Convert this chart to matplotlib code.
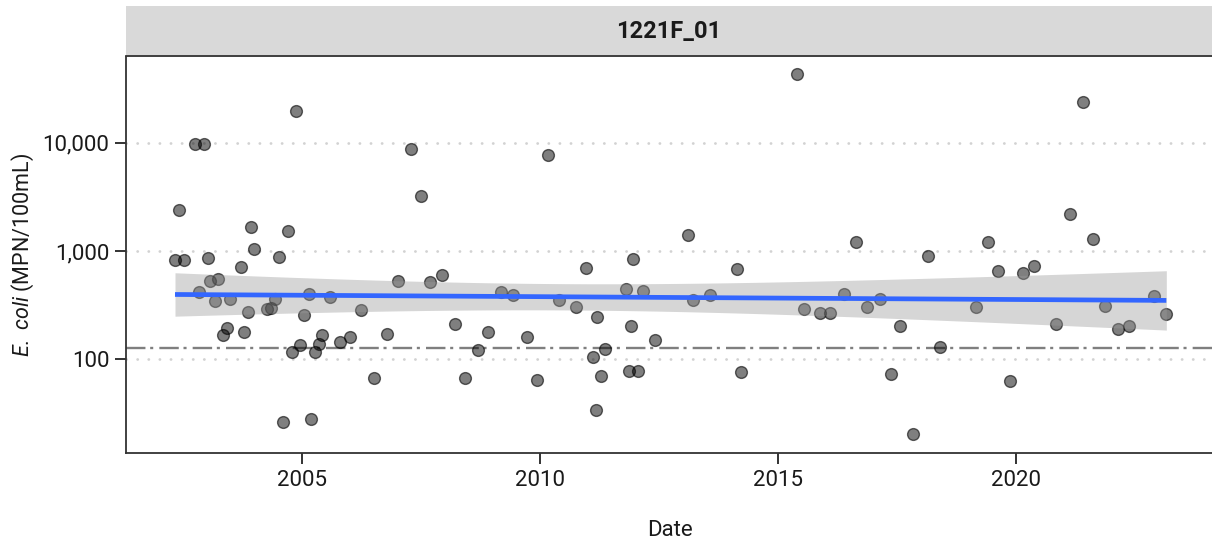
import numpy as np
import matplotlib
matplotlib.use("Agg")
import matplotlib.pyplot as plt
from matplotlib.ticker import FixedLocator, FuncFormatter, NullLocator

# ---- data (decimal year, E. coli MPN/100mL) ----
years = [2002.33, 2002.41, 2002.51, 2002.76, 2002.84, 2002.94, 2003.02, 2003.07, 2003.17, 2003.24,
         2003.33, 2003.42, 2003.48, 2003.72, 2003.79, 2003.86, 2003.93, 2004.00, 2004.27, 2004.35,
         2004.44, 2004.52, 2004.60, 2004.70, 2004.78, 2004.87, 2004.96, 2005.04, 2005.14, 2005.18,
         2005.28, 2005.35, 2005.43, 2005.59, 2005.79, 2006.00, 2006.23, 2006.51, 2006.79, 2007.02,
         2007.29, 2007.50, 2007.69, 2007.94, 2008.22, 2008.42, 2008.71, 2008.91, 2009.18, 2009.44,
         2009.74, 2009.94, 2010.18, 2010.41, 2010.75, 2010.97, 2011.12, 2011.18, 2011.21, 2011.29,
         2011.38, 2011.81, 2011.87, 2011.92, 2011.95, 2012.06, 2012.17, 2012.43, 2013.12, 2013.22,
         2013.57, 2014.15, 2014.23, 2015.41, 2015.55, 2015.88, 2016.10, 2016.40, 2016.65, 2016.88,
         2017.15, 2017.39, 2017.58, 2017.85, 2018.15, 2018.41, 2019.16, 2019.42, 2019.64, 2019.88,
         2020.15, 2020.39, 2020.85, 2021.15, 2021.42, 2021.63, 2021.88, 2022.15, 2022.38, 2022.92,
         2023.17]
ecoli = [818, 2410, 818, 9700, 420, 9700, 853, 531, 341, 546,
         166, 192, 361, 711, 179, 272, 1667, 1044, 290, 299,
         359, 873, 26, 1518, 115, 19900, 134, 257, 400, 28,
         116, 137, 168, 375, 145, 160, 286, 66, 170, 531,
         8730, 3200, 512, 599, 209, 66, 120, 179, 416, 388,
         161, 64, 7800, 349, 301, 700, 105, 34, 243, 69,
         125, 441, 78, 200, 844, 78, 423, 150, 1406, 349,
         388, 681, 75, 43800, 290, 268, 268, 400, 1203, 301,
         361, 72, 200, 20, 899, 130, 301, 1203, 658, 63,
         621, 731, 211, 2203, 24100, 1300, 310, 191, 200, 383,
         261]
threshold = 126
site = "1221F_01"
xticks = [2005, 2010, 2015, 2020]
yticks = [100, 1000, 10000]

plt.rcParams['font.family'] = ['Roboto', 'DejaVu Sans']
plt.rcParams['mathtext.fontset'] = 'custom'
plt.rcParams['mathtext.rm'] = 'Roboto'
plt.rcParams['mathtext.it'] = 'Roboto:italic'
plt.rcParams['lines.scale_dashes'] = False

W, H = 1212, 550
fig = plt.figure(figsize=(W / 100, H / 100), dpi=100)

left_px, right_px, top_px, bot_px = 126, 1212, 56.5, 453.4

# strip (drawn first so the panel's top border sits on top)
strip_top = 5.7
sax = fig.add_axes([left_px / W, 1 - top_px / H, (right_px - left_px) / W, (top_px - strip_top) / H])
sax.set_facecolor('#d9d9d9')
for sp in sax.spines.values():
    sp.set_visible(False)
sax.set_xticks([])
sax.set_yticks([])
sax.text(0.5, 0.5, site, transform=sax.transAxes, ha='center', va='center', fontsize=17,
         fontweight='bold', color='#1a1a1a')

ax = fig.add_axes([left_px / W, 1 - bot_px / H, (right_px - left_px) / W, (bot_px - top_px) / H])
ax.set_zorder(2)
ax.patch.set_alpha(0)

x = np.array(years)
y = np.array(ecoli, dtype=float)

# grid (dotted)
for v in yticks:
    ax.axhline(v, color='#d2d2d2', lw=2.0, linestyle=(0, (0.1, 7.9)), zorder=0,
               dash_capstyle='round')

# points
ax.scatter(x, y, s=72, facecolor=(0, 0, 0, 0.5), edgecolor=(0, 0, 0, 0.6), linewidth=1.0, zorder=2)

# linear fit on log10 scale with 95% CI
ly = np.log10(y)
n = len(x)
b1, b0 = np.polyfit(x, ly, 1)
xs = np.linspace(x.min(), x.max(), 200)
fit = b0 + b1 * xs
resid = ly - (b0 + b1 * x)
s = np.sqrt(np.sum(resid ** 2) / (n - 2))
se = s * np.sqrt(1 / n + (xs - x.mean()) ** 2 / np.sum((x - x.mean()) ** 2))
tcrit = 1.984
ax.fill_between(xs, 10 ** (fit - tcrit * se), 10 ** (fit + tcrit * se), color='#999999', alpha=0.4,
                linewidth=0, zorder=3)
ax.plot(xs, 10 ** fit, color='#3366FF', lw=3.4, zorder=4, solid_capstyle='butt')

# threshold line
ax.axhline(threshold, color='#7f7f7f', lw=1.7, linestyle=(0, (14, 3.4, 2.2, 4.4)), zorder=1)

ax.set_yscale('log')
ax.set_xlim(2001.30, 2024.13)
ax.set_ylim(10 ** 1.126, 10 ** 4.80)
ax.xaxis.set_major_locator(FixedLocator(xticks))
ax.xaxis.set_minor_locator(NullLocator())
ax.yaxis.set_major_locator(FixedLocator(yticks))
ax.yaxis.set_minor_locator(NullLocator())
ax.yaxis.set_major_formatter(FuncFormatter(lambda v, p: f"{int(v):,}"))
ax.xaxis.set_major_formatter(FuncFormatter(lambda v, p: f"{int(v)}"))

for sp in ['left', 'bottom', 'top']:
    ax.spines[sp].set_color('#333333')
    ax.spines[sp].set_linewidth(1.3)
ax.spines['right'].set_visible(False)
ax.tick_params(axis='both', length=8, width=1.4, color='#333333', labelsize=16, labelcolor='#1a1a1a', pad=4)

# axis labels
fig.text(23 / W, 1 - 255 / H, r"$E.\ coli$ (MPN/100mL)", rotation=90, ha='center', va='center',
         fontsize=15.5, color='#1a1a1a')
fig.text(670 / W, 1 - 530 / H, "Date", ha='center', va='center', fontsize=16, color='#1a1a1a')

fig.savefig('out.png', dpi=100)
